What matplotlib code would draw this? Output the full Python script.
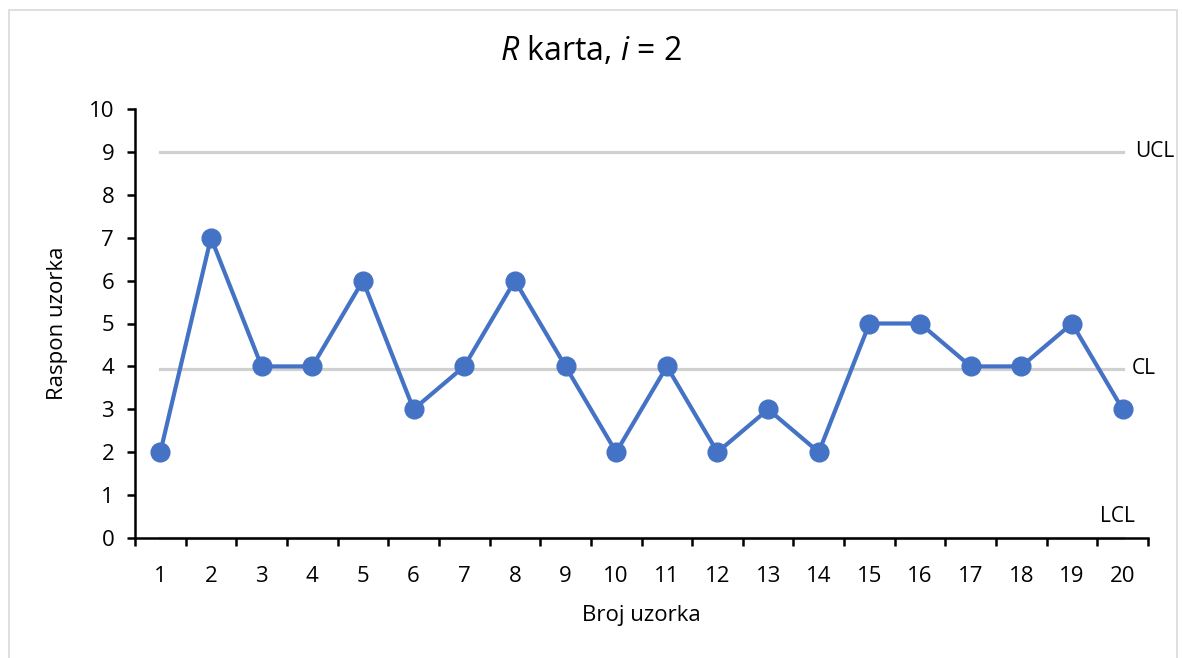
import matplotlib
matplotlib.use('Agg')
import matplotlib.pyplot as plt
from matplotlib.patches import Rectangle
import numpy as np

plt.rcParams['font.family'] = ['Open Sans', 'DejaVu Sans']
plt.rcParams['mathtext.fontset'] = 'custom'
plt.rcParams['mathtext.rm'] = 'Open Sans'
plt.rcParams['mathtext.it'] = 'Open Sans:italic'

# Data
samples = np.arange(1, 21)
ranges = [2, 7, 4, 4, 6, 3, 4, 6, 4, 2, 4, 2, 3, 2, 5, 5, 4, 4, 5, 3]
ucl = 9.0
cl = 3.95
lcl = 0.0

blue = '#4472C4'
grey = '#D0D0D0'

fig = plt.figure(figsize=(11.82, 6.58), dpi=100)
ax = fig.add_axes([135 / 1182, 1 - 538 / 658, (1148 - 135) / 1182, (538 - 109) / 658])

# control limits
for lim in [ucl, cl, lcl]:
    ax.plot([samples[0], samples[-1]], [lim, lim], color=grey, lw=2.3, zorder=1, clip_on=False)

ax.plot(samples, ranges, color=blue, lw=3, marker='o', markersize=13.5, zorder=3)

ax.text(20.25, ucl, 'UCL', fontsize=15, va='center', ha='left')
ax.text(20.18, cl, 'CL', fontsize=15, va='center', ha='left')
ax.text(19.55, lcl + 0.5, 'LCL', fontsize=15, va='center', ha='left')

ax.set_xlim(0.5, 20.5)
ax.set_ylim(0, 10)
ax.set_yticks(range(0, 11))
ax.set_xticks(samples)
ax.set_xticks(np.arange(0.5, 21, 1), minor=True)
ax.tick_params(axis='x', which='major', length=0, pad=20, labelsize=16)
ax.tick_params(axis='x', which='minor', length=6, width=1.8, direction='out')
ax.tick_params(axis='y', length=6, width=1.8, direction='out', pad=9, labelsize=16)

for side in ['top', 'right']:
    ax.spines[side].set_visible(False)
for side in ['left', 'bottom']:
    ax.spines[side].set_linewidth(1.8)

ax.set_xlabel('Broj uzorka', fontsize=16, labelpad=13)
ax.set_ylabel('Raspon uzorka', fontsize=16, labelpad=15)
fig.text(0.5, 1 - 52 / 658, r'$\it{R}$ karta, $\it{i}$ = 2', fontsize=23, ha='center', va='center')

# chart border
fig.patches.append(Rectangle((9 / 1182, -0.05), (1177 - 9) / 1182, 1.05 - 10 / 658,
                             transform=fig.transFigure, fill=False, edgecolor='#D9D9D9', lw=1.2))

fig.savefig('out.png', dpi=100)
